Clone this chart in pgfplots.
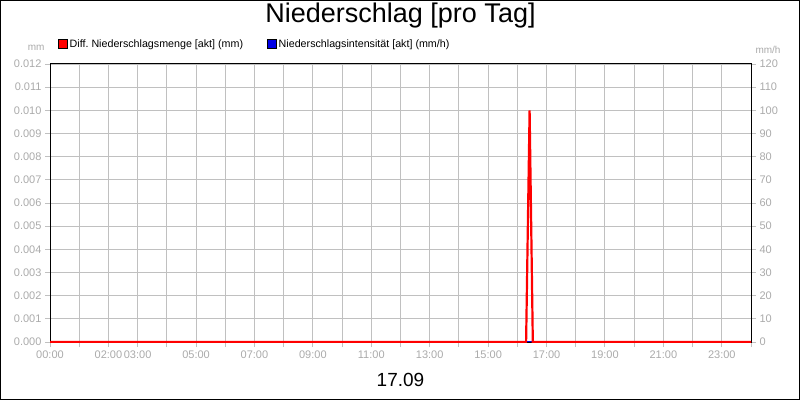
\documentclass[border=0pt]{standalone}
\usepackage{fontspec}
\setmainfont{Liberation Sans}
\usepackage{pgfplots}
\pgfplotsset{compat=1.18}
\frenchspacing

\definecolor{gridgray}{RGB}{192,192,192}
\definecolor{labgray}{RGB}{170,170,170}
\definecolor{mred}{RGB}{255,0,0}
\definecolor{mblue}{RGB}{0,0,230}

\pgfplotsset{
  base/.style={
    scale only axis, width=701pt, height=278pt,
    at={(50pt,58pt)}, anchor=south west,
    xmin=0, xmax=24,
    tick label style={font=\fontsize{11}{13}\selectfont, labgray},
    /pgf/number format/assume math mode=true,
    major tick length=5pt,
    tick style={gridgray, line width=1pt},
  },
}

\begin{document}
\begin{tikzpicture}[x=1pt,y=1pt]
  \path[use as bounding box] (0,0) rectangle (800,400);
  \draw[black, line width=1pt] (0.5,0.5) rectangle (799.5,399.5);

  % left axis with grid, labels and legend
  \begin{axis}[base,
      clip mode=individual,
      axis line style={draw=none},
      ymin=0, ymax=0.012,
      ytick={0,0.001,0.002,0.003,0.004,0.005,0.006,0.007,0.008,0.009,0.010,0.011,0.012},
      scaled y ticks=false,
      yticklabel style={/pgf/number format/.cd, fixed, fixed zerofill, precision=3},
      xtick={0,1,...,24},
      xticklabels={00:00,,02:00,03:00,,05:00,,07:00,,09:00,,11:00,,13:00,,15:00,,17:00,,19:00,,21:00,,23:00,},
      xtick align=outside, ytick align=outside,
      xtick pos=bottom, ytick pos=left,
      grid=major,
      major grid style={gridgray, line width=1pt},
      title={Niederschlag [pro Tag]},
      title style={font=\fontsize{27}{30}\selectfont, at={(axis description cs:0.5,1)}, anchor=base, yshift=36pt},
      xlabel={17.09},
      xlabel style={font=\fontsize{19}{22}\selectfont, at={(axis description cs:0.5,0)}, anchor=center, yshift=-38pt},
      legend columns=2,
      legend style={draw=none, fill=none, font=\fontsize{10.7}{13}\selectfont,
        at={(axis description cs:0.007,1.072)}, anchor=west,
        /tikz/every even column/.append style={column sep=22pt}},
      legend image code/.code={\draw[#1, draw=black, line width=0.6pt] (0pt,-4.5pt) rectangle (9pt,4.5pt);},
    ]
    \addlegendimage{fill=mred}
    \addlegendentry{Diff. Niederschlagsmenge [akt] (mm)}
    \addlegendimage{fill=mblue}
    \addlegendentry{Niederschlagsintensität [akt] (mm/h)}
    \node[anchor=east, labgray, font=\fontsize{10}{12}\selectfont] at ([xshift=-2pt,yshift=16pt]rel axis cs:0,1) {mm};
    \node[anchor=west, labgray, font=\fontsize{10}{12}\selectfont] at ([xshift=1pt,yshift=14pt]rel axis cs:1,1) {mm/h};
  \end{axis}

  % right axis: intensity
  \begin{axis}[base,
      axis y line*=right, axis x line=none,
      axis line style={draw=none},
      ymin=0, ymax=120, ytick={0,10,...,120},
      ytick align=outside,
    ]
    \addplot[mblue, line width=2pt] coordinates {(0,0) (24,0)};
  \end{axis}

  % precipitation amount on left scale, frame on top
  \begin{axis}[base,
      ymin=0, ymax=0.012,
      xtick=\empty, ytick=\empty,
      axis line style={black, line width=1pt},
    ]
    \addplot[mred, line width=2.2pt] coordinates {
      (0,0) (16.30,0) (16.42,0.010) (16.53,0) (24,0)
    };
  \end{axis}
\end{tikzpicture}
\end{document}
